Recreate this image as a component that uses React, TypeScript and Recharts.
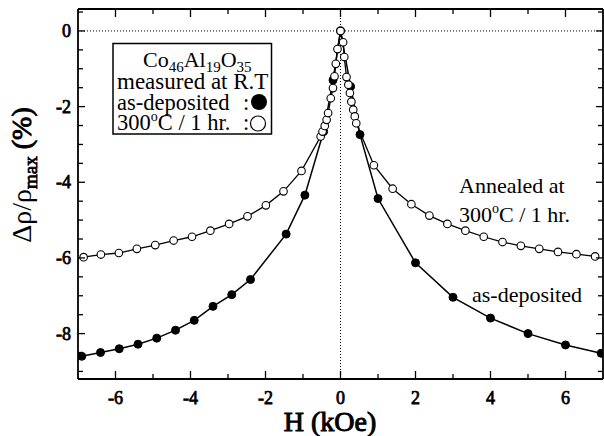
import { ComposedChart, Line, XAxis, YAxis, ReferenceLine } from 'recharts'

const asDepH = [-6.9, -6.4, -5.9, -5.4, -4.9, -4.4, -3.9, -3.4, -2.9, -2.4, -1.45, -0.95, -0.45, -0.2, 0, 0.27, 0.52, 1, 2, 3, 4, 5, 6, 6.95]
const asDepR = [-8.6, -8.5, -8.4, -8.28, -8.12, -7.91, -7.65, -7.28, -6.97, -6.57, -5.37, -4.34, -2.66, -1.3, 0, -1.47, -2.74, -4.43, -6.13, -7.04, -7.59, -8.0, -8.3, -8.52]

const annH = [-6.85, -6.39, -5.91, -5.43, -4.94, -4.45, -3.96, -3.47, -2.97, -2.48, -1.99, -1.52, -1.04, -0.53, -0.48, -0.42, -0.37, -0.33, -0.26, -0.2, -0.16, -0.125, -0.08, 0, 0.07, 0.1, 0.16, 0.21, 0.25, 0.29, 0.34, 0.38, 0.42, 0.89, 1.39, 1.89, 2.37, 2.85, 3.33, 3.82, 4.32, 4.81, 5.3, 5.8, 6.29, 6.79]
const annR = [-5.98, -5.91, -5.87, -5.76, -5.66, -5.54, -5.44, -5.28, -5.1, -4.9, -4.61, -4.24, -3.7, -2.79, -2.66, -2.51, -2.35, -2.17, -1.78, -1.51, -1.2, -0.87, -0.48, 0, -0.3, -0.69, -1.22, -1.42, -1.64, -1.87, -2.08, -2.26, -2.44, -3.55, -4.17, -4.58, -4.88, -5.1, -5.28, -5.44, -5.58, -5.68, -5.76, -5.84, -5.9, -5.96]

const xMajor = [-6, -4, -2, 0, 2, 4, 6]
const xTicks = [-6, -5, -4, -3, -2, -1, 0, 1, 2, 3, 4, 5, 6]
const yMajor = [-8, -6, -4, -2, 0]
const yTicks = [-9, -8.5, -8, -7.5, -7, -6.5, -6, -5.5, -5, -4.5, -4, -3.5, -3, -2.5, -2, -1.5, -1, -0.5, 0, 0.5]

const asDeposited = asDepH.map((h, i) => ({ h, r: asDepR[i] }))
const annealed = annH.map((h, i) => ({ h, r: annR[i] }))

const X_DOMAIN = [-7, 7]
const Y_DOMAIN = [-9.2, 0.58]

const FONT = '"Liberation Serif", "Times New Roman", serif'
const INK = '#000'
const frame = { stroke: INK, strokeWidth: 1.8 }
// bold serif is faked with a thin stroke on the regular face
const boldStroke = { stroke: INK, strokeWidth: 0.75 }

// ticks point inward; tickSize and tickMargin are 0 so x/y sit on the axis line
function BottomTick({ x, y, payload }: any) {
  const major = xMajor.includes(payload.value)
  return (
    <g>
      <line x1={x} x2={x} y1={y} y2={y - (major ? 8 : 5)} stroke={INK} strokeWidth={1.3} />
      {major && (
        <text x={x} y={y + 25} textAnchor="middle" fontFamily={FONT} fontSize={18} fill={INK} {...boldStroke}>
          {payload.value}
        </text>
      )}
    </g>
  )
}

function TopTick({ x, y, payload }: any) {
  const major = xMajor.includes(payload.value)
  return <line x1={x} x2={x} y1={y} y2={y + (major ? 8 : 5)} stroke={INK} strokeWidth={1.3} />
}

function LeftTick({ x, y, payload }: any) {
  const major = yMajor.includes(payload.value)
  return (
    <g>
      <line x1={x} x2={x + (major ? 7 : 5)} y1={y} y2={y} stroke={INK} strokeWidth={1.3} />
      {major && (
        <text x={x - 7} y={y + 6} textAnchor="end" fontFamily={FONT} fontSize={18} fill={INK} {...boldStroke}>
          {payload.value}
        </text>
      )}
    </g>
  )
}

function RightTick({ x, y, payload }: any) {
  const major = yMajor.includes(payload.value)
  return <line x1={x} x2={x - (major ? 7 : 5)} y1={y} y2={y} stroke={INK} strokeWidth={1.3} />
}

export default function App() {
  return (
    <div style={{ position: 'absolute', left: 0, top: 0, width: 604, height: 436, background: '#fff' }}>
      <ComposedChart width={604} height={436} margin={{ top: 8, right: 0, bottom: 0, left: 0 }}>
        <XAxis xAxisId="x" type="number" dataKey="h" domain={X_DOMAIN} ticks={xTicks} interval={0} height={57} tickSize={0} tickMargin={0} axisLine={frame} tickLine={false} tick={<BottomTick />} allowDataOverflow />
        <XAxis xAxisId="t" orientation="top" type="number" dataKey="h" domain={X_DOMAIN} ticks={xTicks} interval={0} height={1} tickSize={0} tickMargin={0} axisLine={frame} tickLine={false} tick={<TopTick />} allowDataOverflow />
        <YAxis yAxisId="y" type="number" domain={Y_DOMAIN} ticks={yTicks} interval={0} width={78} tickSize={0} tickMargin={0} axisLine={frame} tickLine={false} tick={<LeftTick />} allowDataOverflow />
        <YAxis yAxisId="r" orientation="right" type="number" domain={Y_DOMAIN} ticks={yTicks} interval={0} width={1} tickSize={0} tickMargin={0} axisLine={frame} tickLine={false} tick={<RightTick />} allowDataOverflow />

        <ReferenceLine xAxisId="x" yAxisId="y" y={0} stroke={INK} strokeWidth={1} strokeDasharray="1 2" />
        <ReferenceLine xAxisId="x" yAxisId="y" x={0} stroke={INK} strokeWidth={1} strokeDasharray="1 2" />

        {/* as-deposited is plotted on the top/right pair, which share the same scales */}
        <Line
          xAxisId="t"
          yAxisId="r"
          data={asDeposited}
          dataKey="r"
          type="linear"
          stroke={INK}
          strokeWidth={1.5}
          dot={{ r: 4, fill: INK, stroke: INK, strokeWidth: 1 }}
          isAnimationActive={false}
        />
        <Line
          xAxisId="x"
          yAxisId="y"
          data={annealed}
          dataKey="r"
          type="linear"
          stroke={INK}
          strokeWidth={1.3}
          dot={{ r: 3.8, fill: '#fff', stroke: INK, strokeWidth: 1.1 }}
          isAnimationActive={false}
        />
      </ComposedChart>

      <svg width={604} height={436} style={{ position: 'absolute', left: 0, top: 0, pointerEvents: 'none' }} fontFamily={FONT} fill={INK}>
        {/* legend box */}
        <rect x={113} y={43.5} width={158.5} height={90.5} fill="#fff" stroke={INK} strokeWidth={1.5} />
        <text x={143} y={67} fontSize={22}>
          Co<tspan fontSize={15} dy={5}>46</tspan>
          <tspan dy={-5}>Al</tspan>
          <tspan fontSize={15} dy={5}>19</tspan>
          <tspan dy={-5}>O</tspan>
          <tspan fontSize={15} dy={5}>35</tspan>
        </text>
        <text x={117} y={89} fontSize={23}>measured at R.T</text>
        <text x={117} y={110} fontSize={22.5}>as-deposited</text>
        <text x={243} y={110} fontSize={22.5}>:</text>
        <circle cx={259} cy={102} r={8} fill={INK} />
        <text x={117} y={130} fontSize={22.5}>
          300<tspan fontSize={14} dy={-9}>o</tspan>
          <tspan dy={9}>C / 1 hr.</tspan>
        </text>
        <text x={243} y={130} fontSize={22.5}>:</text>
        <circle cx={258} cy={123.5} r={7.5} fill="#fff" stroke={INK} strokeWidth={1.2} />

        {/* curve annotations */}
        <text x={459} y={193} fontSize={22}>Annealed at</text>
        <text x={459} y={222} fontSize={22}>
          300<tspan fontSize={14} dy={-9}>o</tspan>
          <tspan dy={9}>C / 1 hr.</tspan>
        </text>
        <text x={472} y={302} fontSize={22}>as-deposited</text>

        {/* axis titles */}
        <text x={330} y={431} fontSize={28} textAnchor="middle" {...boldStroke} strokeWidth={1}>H (kOe)</text>
        <g transform="translate(31,175) rotate(-90)">
          <text x={0} y={0} fontSize={28} textAnchor="middle">
            Δρ/ρ<tspan fontSize={19} dy={6} stroke={INK} strokeWidth={0.8}>max</tspan>
            <tspan dy={-6} stroke={INK} strokeWidth={1}> (%)</tspan>
          </text>
        </g>
      </svg>
    </div>
  )
}
